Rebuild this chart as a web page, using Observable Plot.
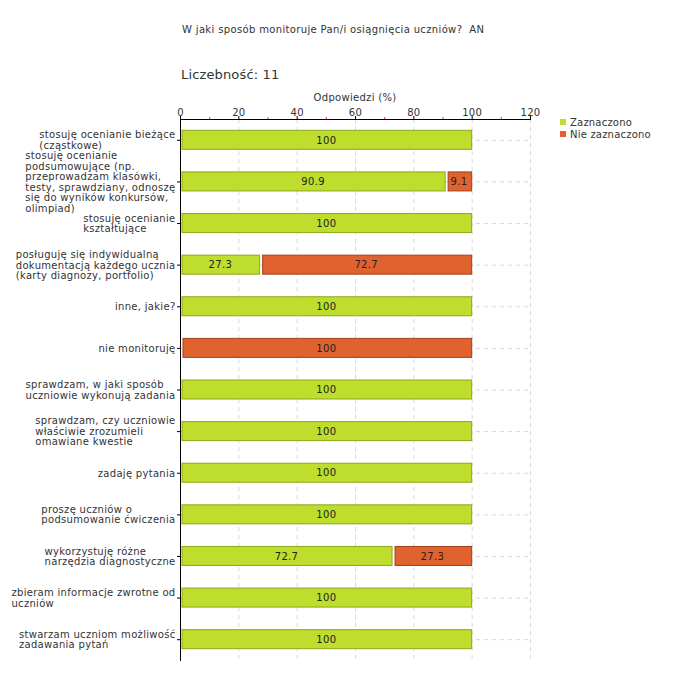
<!DOCTYPE html>
<html>
<head>
<meta charset="utf-8">
<script src="https://cdn.jsdelivr.net/npm/d3@7"></script>
<script src="https://cdn.jsdelivr.net/npm/@observablehq/plot@0.6"></script>
<style>
  body { margin: 0; background: #fff; font-family: "DejaVu Sans", Verdana, sans-serif; }
  #wrap { position: relative; width: 680px; height: 680px; overflow: hidden; }
  .abs { position: absolute; white-space: nowrap; color: #333; }
  #title { left: 182px; top: 23px; font-size: 10px; line-height: 14px; letter-spacing: 0.35px; }
  #count { left: 181px; top: 66px; font-size: 13px; line-height: 18px; letter-spacing: 0.15px; }
  #xlabel { left: 180px; width: 350px; text-align: center; top: 91px; font-size: 10px; line-height: 14px; letter-spacing: 0.3px; }
  #legend { left: 560px; top: 117px; font-size: 10px; line-height: 12px; letter-spacing: 0.2px; }
  #legend .sw { display: inline-block; width: 6px; height: 6px; margin-right: 4px; vertical-align: 1px; }
  #chart { position: absolute; left: 0; top: 90px; }
</style>
</head>
<body>
<div id="wrap">
  <div id="title" class="abs">W jaki sposób monitoruje Pan/i osiągnięcia uczniów?&nbsp; AN</div>
  <div id="count" class="abs">Liczebność: 11</div>
  <div id="xlabel" class="abs">Odpowiedzi (%)</div>
  <div id="legend" class="abs"></div>
  <div id="chart"></div>
</div>
<script>
const categories = [
  "stosuję ocenianie bieżące\n(cząstkowe)",
  "stosuję ocenianie\npodsumowujące (np.\nprzeprowadzam klasówki,\ntesty, sprawdziany, odnoszę\nsię do wyników konkursów,\nolimpiad)",
  "stosuję ocenianie\nkształtujące",
  "posługuję się indywidualną\ndokumentacją każdego ucznia\n(karty diagnozy, portfolio)",
  "inne, jakie?",
  "nie monitoruję",
  "sprawdzam, w jaki sposób\nuczniowie wykonują zadania",
  "sprawdzam, czy uczniowie\nwłaściwie zrozumieli\nomawiane kwestie",
  "zadaję pytania",
  "proszę uczniów o\npodsumowanie ćwiczenia",
  "wykorzystuję różne\nnarzędzia diagnostyczne",
  "zbieram informacje zwrotne od\nuczniów",
  "stwarzam uczniom możliwość\nzadawania pytań"
];
const zaznaczono    = [100, 90.9, 100, 27.3, 100, 0, 100, 100, 100, 100, 72.7, 100, 100];
const nieZaznaczono = [0, 9.1, 0, 72.7, 0, 100, 0, 0, 0, 0, 27.3, 0, 0];
const seriesNames = ["Zaznaczono", "Nie zaznaczono"];
const xTicks = [0, 20, 40, 60, 80, 100, 120];
const xMinorTicks = [10, 30, 50, 70, 90, 110];
const xGridTicks = [20, 40, 60, 80, 100, 120];

const green = "#bedd2c", greenStroke = "#8ca81a";
const red = "#e0622e", redStroke = "#a0401a";

const rows = categories.map((c, i) => ({category: c, z: zaznaczono[i], n: nieZaznaczono[i]}));
const fmt = v => String(v);
const inset = 11.3;

const chart = Plot.plot({
  width: 680,
  height: 590,
  marginTop: 29,
  marginLeft: 180,
  marginRight: 150,
  marginBottom: 20,
  style: {fontFamily: "DejaVu Sans, Verdana, sans-serif", fontSize: "10px", color: "#333", background: "transparent", letterSpacing: "0.3px"},
  x: {domain: [0, 120]},
  y: {domain: categories, padding: 0, round: false},
  marks: [
    Plot.gridX({ticks: xGridTicks, stroke: "#d8d8d8", strokeOpacity: 1, strokeDasharray: "4,4"}),
    Plot.gridY({stroke: "#d8d8d8", strokeOpacity: 1, strokeDasharray: "4,4"}),
    Plot.barX(rows.filter(d => d.z > 0), {
      y: "category", x1: d => 0, x2: d => d.z,
      fill: green, stroke: greenStroke, strokeWidth: 1,
      insetTop: inset, insetBottom: inset, insetLeft: 2
    }),
    Plot.barX(rows.filter(d => d.n > 0), {
      y: "category", x1: d => d.z, x2: d => d.z + d.n,
      fill: red, stroke: redStroke, strokeWidth: 1,
      insetTop: inset, insetBottom: inset, insetLeft: 3
    }),
    Plot.text(rows.filter(d => d.z > 0), {
      y: "category", x: d => d.z / 2, text: d => fmt(d.z),
      fill: "#222", fontSize: 10
    }),
    Plot.text(rows.filter(d => d.n > 0), {
      y: "category", x: d => d.z + d.n / 2, text: d => fmt(d.n),
      fill: "#222", fontSize: 10
    }),
    Plot.axisX({anchor: "top", ticks: xTicks, tickSize: 4, tickPadding: 0, label: null, stroke: "#000", fill: "#333"}),
    Plot.axisX({anchor: "top", ticks: xMinorTicks, tickSize: 3, tickFormat: () => "", label: null, stroke: "#e03a3a"}),
    Plot.axisY({anchor: "left", tickSize: 3, tickPadding: 2, label: null, lineHeight: 1.05, stroke: "#000", fill: "#333"}),
    Plot.frame({anchor: "top", stroke: "#000"}),
    Plot.frame({anchor: "left", stroke: "#000"})
  ]
});
document.getElementById("chart").appendChild(chart);

// Left-align the lines of each multi-line y label, with the block ending at the tick
chart.querySelectorAll('g[aria-label="y-axis tick label"] text').forEach(t => {
  const spans = t.querySelectorAll("tspan");
  if (spans.length > 1) {
    const w = t.getBBox().width;
    t.setAttribute("text-anchor", "start");
    spans.forEach(s => s.setAttribute("x", -w));
  }
});

// Legend
const legend = document.getElementById("legend");
[[seriesNames[0], green], [seriesNames[1], red]].forEach(([name, col]) => {
  const row = document.createElement("div");
  row.innerHTML = `<span class="sw" style="background:${col}"></span>${name}`;
  legend.appendChild(row);
});
</script>
</body>
</html>
